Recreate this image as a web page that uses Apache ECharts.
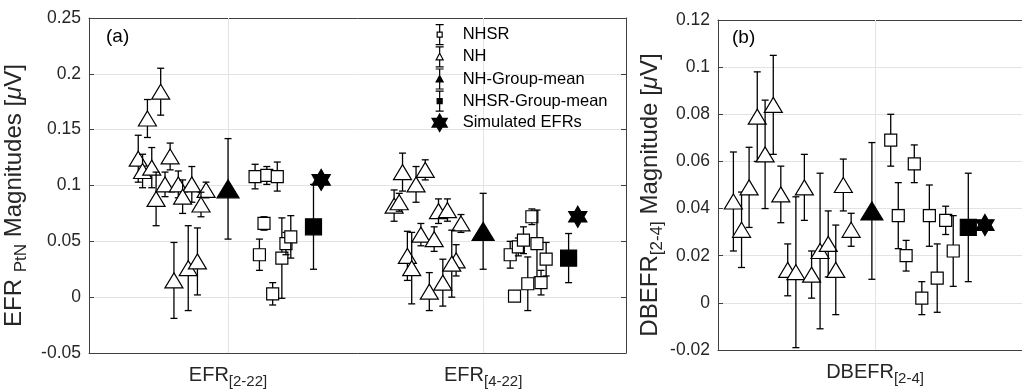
<!DOCTYPE html>
<html>
<head>
<meta charset="utf-8">
<script src="https://cdn.jsdelivr.net/npm/echarts@6/dist/echarts.min.js"></script>
<style>
  html, body { margin: 0; padding: 0; background: #fff; }
  #chart { width: 1022px; height: 391px; }
</style>
</head>
<body>
<div id="chart"></div>
<script>
// ---- panel (a): EFR PtN magnitudes ----
const xTickValsA = [1, 2];
const xTickMainA = ['EFR', 'EFR'];
const xTickSubA = ['[2-22]', '[4-22]'];

const nhA_x = [0.736, 0.684, 0.648, 0.665, 0.701, 0.773, 0.718, 0.753, 0.805, 0.858, 0.822, 0.914, 0.894, 0.788, 0.844, 0.880,
               1.684, 1.773, 1.737, 1.651, 1.671, 1.825, 1.860, 1.913, 1.756, 1.808, 1.703, 1.720, 1.789, 1.842, 1.894, 1.877];
const nhA_y = [0.184, 0.160, 0.124, 0.113, 0.116, 0.126, 0.088, 0.101, 0.101, 0.101, 0.090, 0.096, 0.083, 0.015, 0.026, 0.032,
               0.112, 0.114, 0.101, 0.082, 0.085, 0.077, 0.078, 0.066, 0.056, 0.052, 0.037, 0.026, 0.005, 0.013, 0.033, 0.030];
const nhA_err = [0.021, 0.017, 0.021, 0.015, 0.018, 0.012, 0.024, 0.011, 0.012, 0.016, 0.015, 0.007, 0.011, 0.034, 0.038, 0.030,
                 0.017, 0.009, 0.016, 0.014, 0.008, 0.011, 0.010, 0.008, 0.010, 0.011, 0.022, 0.032, 0.017, 0.021, 0.014, 0.030];

const nhsrA_x = [1.106, 1.152, 1.193, 1.141, 1.123, 1.175, 1.211, 1.227, 1.246,
                 2.123, 2.106, 2.138, 2.158, 2.191, 2.211, 2.175, 2.247, 2.227];
const nhsrA_y = [0.108, 0.109, 0.108, 0.066, 0.038, 0.003, 0.035, 0.048, 0.054,
                 0.001, 0.038, 0.045, 0.051, 0.072, 0.048, 0.012, 0.034, 0.013];
const nhsrA_err = [0.011, 0.008, 0.013, 0.006, 0.014, 0.010, 0.036, 0.010, 0.019,
                   0.004, 0.012, 0.008, 0.012, 0.007, 0.030, 0.024, 0.015, 0.011];

const nhMeanA_x = [1.0, 2.0];
const nhMeanA_y = [0.097, 0.059];
const nhMeanA_err = [0.045, 0.034];
const nhsrMeanA_x = [1.335, 2.335];
const nhsrMeanA_y = [0.063, 0.035];
const nhsrMeanA_err = [0.038, 0.022];
const simA_x = [1.365, 2.371];
const simA_y = [0.105, 0.072];

// ---- panel (b): DBEFR magnitude ----
const xTickValsB = [1];
const xTickMainB = ['DBEFR'];
const xTickSubB = ['[2-4]'];

const nhB_x = [0.549, 0.575, 0.599, 0.625, 0.650, 0.676, 0.700, 0.775, 0.899, 0.924, 0.722, 0.748, 0.798, 0.825, 0.851, 0.875];
const nhB_y = [0.043, 0.031, 0.049, 0.079, 0.063, 0.084, 0.046, 0.049, 0.050, 0.031, 0.014, 0.013, 0.012, 0.022, 0.025, 0.014];
const nhB_err = [0.021, 0.016, 0.017, 0.019, 0.023, 0.021, 0.012, 0.014, 0.011, 0.007, 0.011, 0.032, 0.010, 0.033, 0.014, 0.019];

const nhsrB_x = [1.050, 1.125, 1.074, 1.099, 1.173, 1.225, 1.149, 1.198, 1.249];
const nhsrB_y = [0.069, 0.059, 0.037, 0.020, 0.037, 0.035, 0.002, 0.0105, 0.022];
const nhsrB_err = [0.011, 0.008, 0.014, 0.0065, 0.013, 0.006, 0.007, 0.0145, 0.015];

const nhMeanB_x = [0.99];
const nhMeanB_y = [0.039];
const nhMeanB_err = [0.029];
const nhsrMeanB_x = [1.297];
const nhsrMeanB_y = [0.032];
const nhsrMeanB_err = [0.023];
const simB_x = [1.350];
const simB_y = [0.033];

const FONT = '"Liberation Sans", Arial, Helvetica, sans-serif';
const TXT = '#262626';
const AX = '#404040';
const GRID = '#e3e3e3';

// marker drawn around a pixel point
function markerShape(kind, cx, cy, fill) {
  const st = { fill: fill, stroke: '#000', lineWidth: 1.2 };
  const big = fill === '#000';
  if (kind === 'tri') {
    const w = big ? 22 : 18, h = big ? 18 : 15;
    return { type: 'polygon', shape: { points: [[cx, cy - h / 2], [cx + w / 2, cy + h / 2], [cx - w / 2, cy + h / 2]] }, style: st };
  }
  if (kind === 'sq') {
    const s = big ? 16 : 12;
    return { type: 'rect', shape: { x: cx - s / 2, y: cy - s / 2, width: s, height: s }, style: st };
  }
  // six-pointed star
  const R = 10.5, r = R / Math.sqrt(3), pts = [];
  for (let k = 0; k < 12; k++) {
    const a = -Math.PI / 2 + k * Math.PI / 6;
    const rad = k % 2 === 0 ? R : r;
    pts.push([cx + rad * Math.cos(a), cy + rad * Math.sin(a)]);
  }
  return { type: 'polygon', shape: { points: pts }, style: st };
}

function errRender(kind, fill) {
  return function (params, api) {
    const x = api.value(0), y = api.value(1), e = api.value(2);
    const c = api.coord([x, y]);
    const kids = [];
    if (e > 0) {
      const t = api.coord([x, y + e])[1];
      const b = api.coord([x, y - e])[1];
      const ls = { stroke: '#000', lineWidth: 1.3 };
      kids.push({ type: 'line', shape: { x1: c[0], y1: t, x2: c[0], y2: b }, style: ls });
      kids.push({ type: 'line', shape: { x1: c[0] - 3.5, y1: t, x2: c[0] + 3.5, y2: t }, style: ls });
      kids.push({ type: 'line', shape: { x1: c[0] - 3.5, y1: b, x2: c[0] + 3.5, y2: b }, style: ls });
    }
    kids.push(markerShape(kind, c[0], c[1], fill));
    return { type: 'group', children: kids };
  };
}

function errSeries(name, xi, yi, kind, fill, xs, ys, es) {
  return {
    type: 'custom', name: name, xAxisIndex: xi, yAxisIndex: yi, z: 3,
    renderItem: errRender(kind, fill),
    encode: { x: 0, y: 1 },
    data: xs.map((v, i) => [v, ys[i], es ? es[i] : 0])
  };
}

// vertical grid lines at the x ticks
function vGridSeries(xi, yi, ticks) {
  return {
    type: 'custom', xAxisIndex: xi, yAxisIndex: yi, z: 1, silent: true,
    renderItem: function (params, api) {
      const px = Math.round(api.coord([api.value(0), 0])[0]) + 0.5;
      const cs = params.coordSys;
      return { type: 'line', shape: { x1: px, y1: cs.y, x2: px, y2: cs.y + cs.height }, style: { stroke: GRID, lineWidth: 1 } };
    },
    encode: { x: 0, y: 1 },
    data: ticks.map(v => [v, 0])
  };
}

const lineStyle = { color: AX, width: 1 };
const subRich = {
  m: { fontSize: 20, fontFamily: FONT, color: TXT },
  s: { fontSize: 15, fontFamily: FONT, color: TXT, padding: [13, 0, 0, 0] }
};
const nameRich = {
  m: { fontSize: 24, fontFamily: FONT, color: TXT },
  s: { fontSize: 17, fontFamily: FONT, color: TXT, padding: [15, 0, 0, 0] },
  i: { fontSize: 24, fontFamily: FONT, color: TXT, fontStyle: 'italic' },
  e: { fontSize: 24, fontFamily: FONT, color: TXT, padding: [0, 20, 0, 0] }
};

function xBottom(grid, min, max, vals, mains, subs) {
  return {
    gridIndex: grid, type: 'value', min: min, max: max, position: 'bottom',
    axisLine: { show: true, onZero: false, lineStyle: lineStyle },
    axisTick: { show: true, inside: true, length: 5, customValues: vals, lineStyle: lineStyle },
    axisLabel: {
      customValues: vals, margin: 8,
      formatter: function (v) {
        const k = vals.indexOf(v);
        return k < 0 ? '' : '{m|' + mains[k] + '}{s|' + subs[k] + '}';
      },
      rich: subRich
    },
    splitLine: { show: false }
  };
}
function xTop(grid, min, max, vals) {
  return {
    gridIndex: grid, type: 'value', min: min, max: max, position: 'top',
    axisLine: { show: true, onZero: false, lineStyle: lineStyle },
    axisTick: { show: true, inside: true, length: 5, customValues: vals, lineStyle: lineStyle },
    axisLabel: { show: false }, splitLine: { show: false }
  };
}

const ICON_NHSR = 'path://M0,0H8M4,0V7.5M1.5,7.5H6.5V12.5H1.5ZM4,12.5V20M0,20H8';
const ICON_NH = 'path://M0,0H8M4,0V6.5M4,6.5L7.5,13L0.5,13ZM4,13V20M0,20H8';
const ICON_STAR = 'path://M50,0L64.43,25L93.3,25L78.87,50L93.3,75L64.43,75L50,100L35.57,75L6.7,75L21.13,50L6.7,25L35.57,25Z';

const chart = echarts.init(document.getElementById('chart'));
chart.setOption({
  animation: false,
  backgroundColor: '#fff',
  title: [
    { text: '(a)', left: 106, top: 27, padding: 0, textStyle: { fontSize: 19, fontWeight: 'normal', fontFamily: FONT, color: '#000' } },
    { text: '(b)', left: 732, top: 28, padding: 0, textStyle: { fontSize: 19, fontWeight: 'normal', fontFamily: FONT, color: '#000' } }
  ],
  legend: {
    orient: 'vertical', left: 431, top: 24, padding: 0, itemGap: 1,
    itemWidth: 36, itemHeight: 20, selectedMode: false,
    textStyle: { fontSize: 16.5, lineHeight: 20, fontFamily: FONT, color: '#000' },
    data: [
      { name: 'NHSR', icon: ICON_NHSR, itemStyle: { color: '#fff', borderColor: '#000', borderWidth: 1.2 } },
      { name: 'NH', icon: ICON_NH, itemStyle: { color: '#fff', borderColor: '#000', borderWidth: 1.2 } },
      { name: 'NH-Group-mean', icon: ICON_NH, itemStyle: { color: '#000', borderColor: '#000', borderWidth: 1.2 } },
      { name: 'NHSR-Group-mean', icon: ICON_NHSR, itemStyle: { color: '#000', borderColor: '#000', borderWidth: 1.2 } },
      { name: 'Simulated EFRs', icon: ICON_STAR, itemStyle: { color: '#000', borderColor: '#000', borderWidth: 0 } }
    ]
  },
  grid: [
    { left: 89, top: 18, right: 396, bottom: 38, outerBoundsMode: 'none' },
    { left: 718, top: 20, right: 0, bottom: 41, outerBoundsMode: 'none' }
  ],
  xAxis: [
    xBottom(0, 0.455, 2.56, xTickValsA, xTickMainA, xTickSubA),
    xTop(0, 0.455, 2.56, xTickValsA),
    xBottom(1, 0.5, 1.468, xTickValsB, xTickMainB, xTickSubB),
    xTop(1, 0.5, 1.468, xTickValsB)
  ],
  yAxis: [
    {
      gridIndex: 0, type: 'value', min: -0.05, max: 0.25, interval: 0.05, position: 'left',
      axisLine: { show: true, onZero: false, lineStyle: lineStyle },
      axisTick: { show: true, inside: true, length: 5, lineStyle: lineStyle },
      axisLabel: { fontSize: 17.5, fontFamily: FONT, color: TXT, margin: 8 },
      splitLine: { show: true, lineStyle: { color: GRID } },
      name: '{m|EFR }{s|PtN}{m| Magnitudes [}{i|μ}{e|V]}',
      nameLocation: 'middle', nameGap: 46, nameRotate: 90,
      nameTextStyle: { rich: nameRich }
    },
    {
      gridIndex: 0, type: 'value', min: -0.05, max: 0.25, interval: 0.05, position: 'right',
      axisLine: { show: true, onZero: false, lineStyle: lineStyle },
      axisTick: { show: true, inside: true, length: 5, lineStyle: lineStyle },
      axisLabel: { show: false }, splitLine: { show: false }
    },
    {
      gridIndex: 1, type: 'value', min: -0.02, max: 0.12, interval: 0.02, position: 'left',
      axisLine: { show: true, onZero: false, lineStyle: lineStyle },
      axisTick: { show: true, inside: true, length: 5, lineStyle: lineStyle },
      axisLabel: { fontSize: 17.5, fontFamily: FONT, color: TXT, margin: 8 },
      splitLine: { show: true, lineStyle: { color: GRID } },
      name: '{m|DBEFR}{s|[2-4]}{m| Magnitude [}{i|μ}{e|V]}',
      nameLocation: 'middle', nameGap: 48, nameRotate: 90,
      nameTextStyle: { rich: nameRich }
    }
  ],
  series: [
    vGridSeries(0, 0, xTickValsA),
    vGridSeries(2, 2, xTickValsB),
    errSeries('NH', 0, 0, 'tri', '#fff', nhA_x, nhA_y, nhA_err),
    errSeries('NHSR', 0, 0, 'sq', '#fff', nhsrA_x, nhsrA_y, nhsrA_err),
    errSeries('NH-Group-mean', 0, 0, 'tri', '#000', nhMeanA_x, nhMeanA_y, nhMeanA_err),
    errSeries('NHSR-Group-mean', 0, 0, 'sq', '#000', nhsrMeanA_x, nhsrMeanA_y, nhsrMeanA_err),
    errSeries('Simulated EFRs', 0, 0, 'star', '#000', simA_x, simA_y, null),
    errSeries('NH', 2, 2, 'tri', '#fff', nhB_x, nhB_y, nhB_err),
    errSeries('NHSR', 2, 2, 'sq', '#fff', nhsrB_x, nhsrB_y, nhsrB_err),
    errSeries('NH-Group-mean', 2, 2, 'tri', '#000', nhMeanB_x, nhMeanB_y, nhMeanB_err),
    errSeries('NHSR-Group-mean', 2, 2, 'sq', '#000', nhsrMeanB_x, nhsrMeanB_y, nhsrMeanB_err),
    errSeries('Simulated EFRs', 2, 2, 'star', '#000', simB_x, simB_y, null)
  ]
});
</script>
</body>
</html>
